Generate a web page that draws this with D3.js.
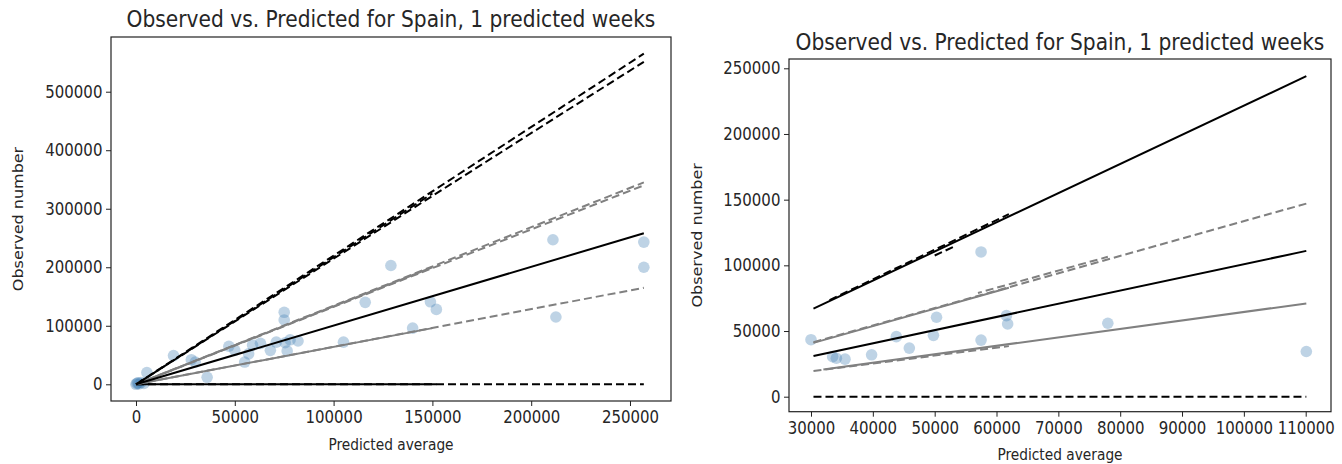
<!DOCTYPE html>
<html>
<head>
<meta charset="utf-8">
<script src="https://cdn.jsdelivr.net/npm/d3@7"></script>
<style>
  html, body { margin: 0; padding: 0; background: #fff; }
  svg { display: block; font-family: "DejaVu Sans", sans-serif; }
</style>
</head>
<body>
<svg id="chart" width="1342" height="464"></svg>
<script>
// ---- text ----
const chartTitle = "Observed vs. Predicted for Spain, 1 predicted weeks";
const xLabel = "Predicted average";
const yLabel = "Observed number";

// ---- left panel: full range ----
const leftXTicks = [0, 50000, 100000, 150000, 200000, 250000];
const leftYTicks = [0, 100000, 200000, 300000, 400000, 500000];

const leftPredicted = [0, 500, 1500, 2500, 1000, 4000, 5500, 19000, 28000, 30000, 36000, 47000, 50000, 55000, 57000, 59000, 63000, 68000, 71000, 75000, 75000, 75500, 76500, 78000, 82000, 105000, 116000, 129000, 140000, 149000, 152000, 211000, 212500, 257000, 257000];
const leftObserved  = [0, 1500, 500, 3000, 2500, 1500, 20000, 49000, 42000, 38000, 12000, 65000, 58000, 38000, 52000, 67000, 70000, 58000, 72000, 123000, 110000, 71000, 57000, 76000, 74000, 72000, 140000, 203000, 96000, 141000, 128000, 247000, 115000, 243000, 200000];

// interval and mean lines, as [predicted, observed] vertices
const leftUpperA     = [[0, 0], [257000, 565000]];
const leftUpperB     = [[0, 0], [212000, 455000], [257000, 551000]];
const leftUpperC     = [[2000, 4000], [150000, 326000]];
const leftGrayUpA    = [[0, 0], [257000, 345000]];
const leftGrayUpB    = [[0, 0], [257000, 340000]];
const leftGrayUpS    = [[0, 0], [150000, 200000]];
const leftMean       = [[0, 0], [257000, 258000]];
const leftGrayLoD    = [[0, 0], [257000, 165000]];
const leftGrayLoS    = [[0, 0], [150000, 96000]];
const leftZeroSolid  = [[0, 0], [152000, 0]];
const leftZeroDashed = [[0, 0], [257000, 0]];

// ---- right panel: 30k-110k subset ----
const rightXTicks = [30000, 40000, 50000, 60000, 70000, 80000, 90000, 100000, 110000];
const rightYTicks = [0, 50000, 100000, 150000, 200000, 250000];

const rightPredicted = [30000, 33500, 34100, 35500, 39800, 43800, 45900, 49800, 50300, 57500, 57500, 61600, 61800, 78000, 110100];
const rightObserved  = [43400, 30500, 29300, 28600, 31900, 45700, 37000, 46700, 60500, 110200, 43100, 61700, 55400, 55900, 34400];

const rightUpperS    = [[30400, 67000], [110100, 244000]];
const rightUpperD    = [[33000, 73500], [62000, 139000]];
const rightUpperD2   = [[50000, 107500], [53500, 115000]];
const rightGrayUpS   = [[30400, 41000], [62000, 83000]];
const rightGrayUpD   = [[30400, 41500], [110100, 147000]];
const rightGrayUpD2  = [[57000, 79000], [78000, 106500]];
const rightMean      = [[30400, 31000], [110100, 111000]];
const rightGrayLoD   = [[30400, 19500], [62000, 38500]];
const rightGrayLoS   = [[32000, 20700], [110100, 71000]];
const rightZeroD     = [[30400, 0], [110100, 0]];

const BLACK = "#000";
const GRAY = "#808080";
const DOT = "rgb(70,130,180)";
const TEXT = "#262626";
const SQUEEZE = 0.86;   // narrow glyph shape used for all text

const svg = d3.select("#chart");

function addText(g, x, y, str, size, vertical) {
  const t = vertical
    ? `translate(${x},${y}) rotate(-90) scale(1,${SQUEEZE})`
    : `translate(${x},${y}) scale(${SQUEEZE},1)`;
  return g.append("text")
    .attr("transform", t)
    .attr("text-anchor", "middle")
    .attr("font-size", size)
    .attr("fill", TEXT)
    .text(str);
}

function drawPanel(cfg) {
  const g = svg.append("g");
  const x = d3.scaleLinear().domain(cfg.xDomain).range([cfg.left, cfg.right]);
  const y = d3.scaleLinear().domain(cfg.yDomain).range([cfg.bottom, cfg.top]);

  // scatter of observed vs predicted
  g.append("g").selectAll("circle")
    .data(d3.zip(cfg.px, cfg.py))
    .join("circle")
    .attr("cx", d => x(d[0]))
    .attr("cy", d => y(d[1]))
    .attr("r", 5.8)
    .attr("fill", DOT)
    .attr("fill-opacity", 0.35);

  const line = d3.line().x(d => x(d[0])).y(d => y(d[1]));
  g.append("g").selectAll("path")
    .data(cfg.lines)
    .join("path")
    .attr("d", d => line(d.pts))
    .attr("fill", "none")
    .attr("stroke", d => d.color)
    .attr("stroke-width", 2)
    .attr("stroke-dasharray", d => d.dash ? "8,4" : null)
    .attr("stroke-dashoffset", d => d.offset || 0);

  // axes
  const fmt = d3.format("d");
  const xa = g.append("g")
    .attr("transform", `translate(0,${cfg.bottom})`)
    .call(d3.axisBottom(x).tickValues(cfg.xTicks).tickFormat(fmt).tickSize(5).tickPadding(5));
  const ya = g.append("g")
    .attr("transform", `translate(${cfg.left},0)`)
    .call(d3.axisLeft(y).tickValues(cfg.yTicks).tickFormat(fmt).tickSize(5).tickPadding(5));
  [xa, ya].forEach(a => {
    a.select(".domain").remove();
    a.selectAll(".tick line").attr("stroke", "#222").attr("stroke-width", 1);
    a.selectAll(".tick text").attr("fill", TEXT).attr("font-size", 17.4)
      .attr("font-family", "DejaVu Sans, sans-serif")
      .attr("transform", `scale(${SQUEEZE},1)`);
  });

  // frame
  g.append("rect")
    .attr("x", cfg.left).attr("y", cfg.top)
    .attr("width", cfg.right - cfg.left).attr("height", cfg.bottom - cfg.top)
    .attr("fill", "none").attr("stroke", "#222").attr("stroke-width", 1.2);

  const cx = (cfg.left + cfg.right) / 2;
  addText(g, cx, cfg.titleY, chartTitle, 23.5);
  addText(g, cx, cfg.xLabelY, xLabel, 16);
  addText(g, cfg.yLabelX, (cfg.top + cfg.bottom) / 2, yLabel, 16, true);
}

drawPanel({
  left: 111, right: 671, top: 37, bottom: 401,
  xDomain: [-12650, 270750], yDomain: [-28540, 593480],
  xTicks: leftXTicks, yTicks: leftYTicks,
  px: leftPredicted, py: leftObserved,
  titleY: 27, xLabelY: 450, yLabelX: 23,
  lines: [
    { pts: leftZeroDashed, color: BLACK, dash: true },
    { pts: leftZeroSolid, color: BLACK },
    { pts: leftGrayLoD, color: GRAY, dash: true },
    { pts: leftGrayLoS, color: GRAY },
    { pts: leftGrayUpA, color: GRAY, dash: true },
    { pts: leftGrayUpB, color: GRAY, dash: true, offset: 5 },
    { pts: leftGrayUpS, color: GRAY },
    { pts: leftMean, color: BLACK },
    { pts: leftUpperA, color: BLACK, dash: true },
    { pts: leftUpperB, color: BLACK, dash: true, offset: 6 },
    { pts: leftUpperC, color: BLACK, dash: true, offset: 3 }
  ]
});

drawPanel({
  left: 789, right: 1331, top: 59, bottom: 411.7,
  xDomain: [26442, 114091], yDomain: [-11419, 257080],
  xTicks: rightXTicks, yTicks: rightYTicks,
  px: rightPredicted, py: rightObserved,
  titleY: 50, xLabelY: 460, yLabelX: 702,
  lines: [
    { pts: rightZeroD, color: BLACK, dash: true },
    { pts: rightGrayLoD, color: GRAY, dash: true },
    { pts: rightGrayLoS, color: GRAY },
    { pts: rightGrayUpD, color: GRAY, dash: true },
    { pts: rightGrayUpD2, color: GRAY, dash: true, offset: 4 },
    { pts: rightGrayUpS, color: GRAY },
    { pts: rightMean, color: BLACK },
    { pts: rightUpperS, color: BLACK },
    { pts: rightUpperD, color: BLACK, dash: true },
    { pts: rightUpperD2, color: BLACK, dash: true }
  ]
});
</script>
</body>
</html>
